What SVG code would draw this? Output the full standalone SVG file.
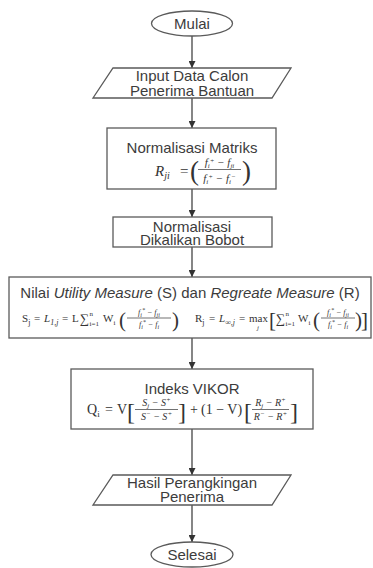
<svg xmlns="http://www.w3.org/2000/svg" width="373" height="568" viewBox="0 0 373 568">
<defs>
<marker id="arr" viewBox="0 0 10 10" refX="10" refY="5" markerWidth="7" markerHeight="7" markerUnits="userSpaceOnUse" orient="auto"><path d="M0,0 L10,5 L0,10 z" fill="#333"/></marker>
<style>
.shape{fill:#fff;stroke:#5a5a5a;stroke-width:1.3}
.lbl{font-family:"Liberation Sans",Arial,sans-serif;font-size:15px;fill:#3c3c3c;text-anchor:middle}
.m{font-family:"Liberation Serif","Times New Roman",serif;fill:#333}
.i{font-style:italic}
.c{text-anchor:middle}
.conn line{stroke:#444;stroke-width:1.3;marker-end:url(#arr)}
.fl{stroke:#333;stroke-width:0.7}
</style>
</defs>
<rect width="373" height="568" fill="#fff"/>
<g class="conn">
<line x1="192" y1="36" x2="192" y2="68"/>
<line x1="192" y1="98" x2="192" y2="128"/>
<line x1="192" y1="189" x2="192" y2="217"/>
<line x1="192" y1="247" x2="192" y2="277"/>
<line x1="192" y1="338" x2="192" y2="369"/>
<line x1="192" y1="429" x2="192" y2="475"/>
<line x1="192" y1="505" x2="192" y2="542"/>
</g>
<g id="mulai">
<ellipse class="shape" cx="192" cy="23.5" rx="40.5" ry="12.5"/>
<text class="lbl" x="192" y="29">Mulai</text>
</g>
<g id="input">
<polygon class="shape" points="113,68 291,68 272,98 93,98"/>
<text class="lbl" x="192" y="81">Input Data Calon<tspan x="192" dy="14.5">Penerima Bantuan</tspan></text>
</g>
<g id="normalisasi">
<rect class="shape" x="107" y="128" width="169" height="61"/>
<text class="lbl" x="192" y="152.5">Normalisasi Matriks</text>
<text class="m i" x="155" y="176" font-size="15">R<tspan font-size="10" dy="3">ji</tspan></text>
<text class="m" x="180" y="176" font-size="15">=</text>
<text class="m" x="190" y="180" font-size="27">(</text>
<text class="m i c" x="219.5" y="165.5" font-size="11">f<tspan font-size="7" dy="2">i</tspan><tspan font-size="7" dy="-5">+</tspan><tspan dy="3"> − f</tspan><tspan font-size="7" dy="2">ji</tspan></text>
<line class="fl" x1="198" y1="169.5" x2="241" y2="169.5"/>
<text class="m i c" x="219.5" y="181.5" font-size="11">f<tspan font-size="7" dy="2">i</tspan><tspan font-size="7" dy="-5">+</tspan><tspan dy="3"> − f</tspan><tspan font-size="7" dy="2">i</tspan><tspan font-size="7" dy="-5">−</tspan></text>
<text class="m" x="242" y="180" font-size="27">)</text>
</g>
<g id="bobot">
<rect class="shape" x="113" y="217" width="159" height="30"/>
<text class="lbl" x="192" y="231.5">Normalisasi<tspan x="192" dy="13.5">Dikalikan Bobot</tspan></text>
</g>
<g id="utility">
<rect class="shape" x="9" y="277" width="362" height="61"/>
<text class="lbl" x="190" y="298" font-size="15.6">Nilai <tspan font-style="italic">Utility Measure</tspan> (S) dan <tspan font-style="italic">Regreate Measure</tspan> (R)</text>
<text class="m" x="22" y="322" font-size="11">S<tspan font-size="8" dy="3">j</tspan></text>
<text class="m" x="34" y="322" font-size="11">=</text>
<text class="m i" x="44" y="322" font-size="11">L<tspan font-size="8" dy="3">1,j</tspan></text>
<text class="m" x="62" y="322" font-size="11">=</text>
<text class="m" x="72" y="322" font-size="11">L</text>
<text class="m" x="80" y="323" font-size="13">∑</text>
<text class="m" x="89.5" y="316" font-size="7">n</text>
<text class="m" x="89.5" y="326" font-size="7">i=1</text>
<text class="m" x="103" y="322" font-size="11">W<tspan font-size="7" dy="3">i</tspan></text>
<text class="m" x="119" y="327" font-size="21">(</text>
<text class="m i c" x="149" y="315" font-size="8">f<tspan font-size="6" dy="1.5">i</tspan><tspan font-size="6" dy="-5">*</tspan><tspan dy="3.5"> − f</tspan><tspan font-size="6" dy="1.5">ji</tspan></text>
<line class="fl" x1="127" y1="318" x2="171" y2="318"/>
<text class="m i c" x="149" y="327" font-size="8">f<tspan font-size="6" dy="1.5">i</tspan><tspan font-size="6" dy="-5">*</tspan><tspan dy="3.5"> − f</tspan><tspan font-size="6" dy="1.5">i</tspan></text>
<text class="m" x="172" y="327" font-size="21">)</text>
<text class="m" x="195" y="322" font-size="11">R<tspan font-size="8" dy="3">j</tspan></text>
<text class="m" x="209" y="322" font-size="11">=</text>
<text class="m i" x="219" y="322" font-size="11">L<tspan font-size="8" dy="3">∞,j</tspan></text>
<text class="m" x="239" y="322" font-size="11">=</text>
<text class="m" x="249" y="322" font-size="11">max</text>
<text class="m i" x="257" y="330" font-size="7">j</text>
<text class="m" x="269" y="327" font-size="21">[</text>
<text class="m" x="276" y="323" font-size="13">∑</text>
<text class="m" x="285.5" y="316" font-size="7">n</text>
<text class="m" x="285.5" y="326" font-size="7">i=1</text>
<text class="m" x="298" y="322" font-size="11">W<tspan font-size="7" dy="3">i</tspan></text>
<text class="m" x="313" y="327" font-size="21">(</text>
<text class="m i c" x="338" y="315" font-size="8">f<tspan font-size="6" dy="1.5">i</tspan><tspan font-size="6" dy="-5">*</tspan><tspan dy="3.5"> − f</tspan><tspan font-size="6" dy="1.5">ji</tspan></text>
<line class="fl" x1="321" y1="318" x2="355" y2="318"/>
<text class="m i c" x="338" y="327" font-size="8">f<tspan font-size="6" dy="1.5">i</tspan><tspan font-size="6" dy="-5">*</tspan><tspan dy="3.5"> − f</tspan><tspan font-size="6" dy="1.5">i</tspan></text>
<text class="m" x="355" y="327" font-size="21">)</text>
<text class="m" x="361" y="327" font-size="21">]</text>
</g>
<g id="vikor">
<rect class="shape" x="71" y="369" width="242" height="60"/>
<text class="lbl" x="192" y="394">Indeks VIKOR</text>
<text class="m" x="87" y="414" font-size="14">Q<tspan font-size="9" dy="3">i</tspan></text>
<text class="m" x="105" y="414" font-size="14">=</text>
<text class="m" x="117" y="414" font-size="14">V</text>
<text class="m" x="127" y="420" font-size="24">[</text>
<text class="m i c" x="156.5" y="406" font-size="10">S<tspan font-size="7" dy="2">j</tspan><tspan dy="-2"> − S</tspan><tspan font-size="7" dy="-4">+</tspan></text>
<line class="fl" x1="135" y1="409.5" x2="178" y2="409.5"/>
<text class="m i c" x="156.5" y="420" font-size="10">S<tspan font-size="7" dy="-4">−</tspan><tspan dy="4"> − S</tspan><tspan font-size="7" dy="-4">+</tspan></text>
<text class="m" x="178" y="420" font-size="24">]</text>
<text class="m" x="190" y="414" font-size="14">+</text>
<text class="m" x="201" y="414" font-size="14">(1 − V)</text>
<text class="m" x="244" y="420" font-size="24">[</text>
<text class="m i c" x="270.5" y="406" font-size="10">R<tspan font-size="7" dy="2">j</tspan><tspan dy="-2"> − R</tspan><tspan font-size="7" dy="-4">+</tspan></text>
<line class="fl" x1="252" y1="409.5" x2="289" y2="409.5"/>
<text class="m i c" x="270.5" y="420" font-size="10">R<tspan font-size="7" dy="-4">−</tspan><tspan dy="4"> − R</tspan><tspan font-size="7" dy="-4">+</tspan></text>
<text class="m" x="290" y="420" font-size="24">]</text>
</g>
<g id="hasil">
<polygon class="shape" points="113,475 291,475 272,505 93,505"/>
<text class="lbl" x="192" y="488">Hasil Perangkingan<tspan x="192" dy="14">Penerima</tspan></text>
</g>
<g id="selesai">
<ellipse class="shape" cx="192" cy="554.5" rx="41" ry="12.5"/>
<text class="lbl" x="192" y="559.5">Selesai</text>
</g>
</svg>
